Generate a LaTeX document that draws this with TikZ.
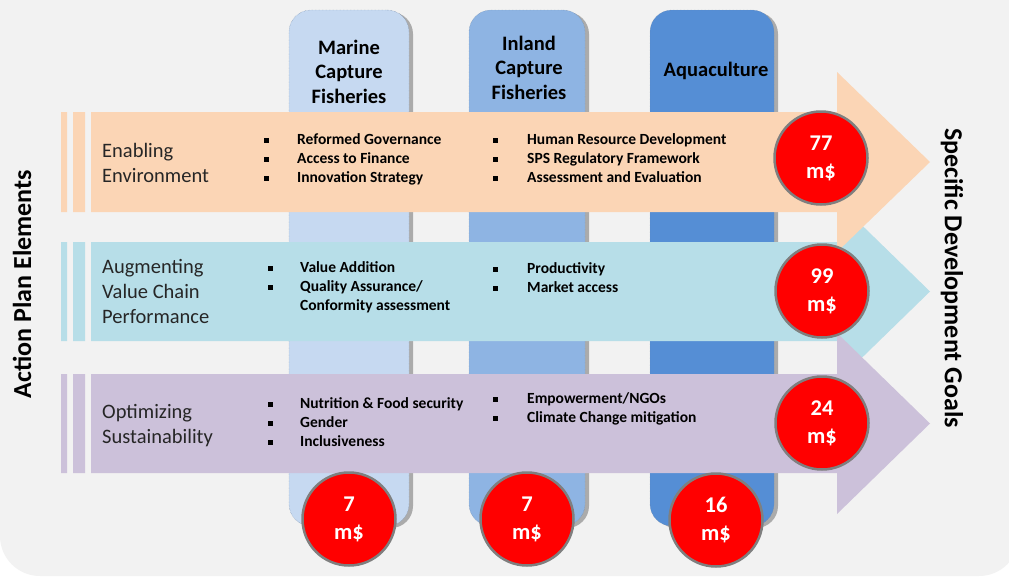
\documentclass[tikz,border=0pt]{standalone}
\usepackage{fontspec}
\setmainfont{Carlito}
\usetikzlibrary{positioning,shadows}
\definecolor{bg}{HTML}{F2F2F2}
\definecolor{bandA}{HTML}{FBD5B5}
\definecolor{bandB}{HTML}{B7DEE8}
\definecolor{bandC}{HTML}{CCC1DA}
\definecolor{colA}{HTML}{C6D9F1}
\definecolor{colB}{HTML}{8EB4E3}
\definecolor{colC}{HTML}{558ED5}
\definecolor{colline}{HTML}{6F86A3}
\definecolor{ring}{HTML}{7F7F7F}
\definecolor{ink}{HTML}{262626}
\tikzstyle{K} = [rectangle,
			draw=colline, densely dotted, thin,
			rounded corners=22pt, minimum height=516pt,
			drop shadow={shadow xshift=4pt, shadow yshift=-2pt,
			fill=black!60, opacity=.5}]
\tikzstyle{H} = [align=center, inner sep=0pt, anchor=base,
			font=\fontsize{20.5}{24.5}\selectfont\bfseries]
\tikzstyle{T} = [align=left, inner sep=0pt, anchor=base west, text=ink,
			font=\fontsize{20.5}{25}\selectfont]
\tikzstyle{B} = [align=left, inner sep=0pt, anchor=base west,
			font=\fontsize{15.5}{19}\selectfont\bfseries]
\tikzstyle{M} = [circle,
			fill=red, draw=ring, line width=2.5pt,
			minimum size=93pt, inner sep=0pt,
			text=white, align=center,
			font=\fontsize{22.5}{28}\selectfont\bfseries]
\tikzstyle{V} = [inner sep=0pt, font=\fontsize{26}{30}\selectfont\bfseries]
\newcommand{\sqb}{\rule[1.4pt]{4.5pt}{4.5pt}}

\begin{document}
\begin{tikzpicture}[x=1pt, y=-1pt]

\useasboundingbox (0,0) rectangle (1009,576);
\clip (0,0) rectangle (1009,576);
\fill[white] (0,0) rectangle (1009,576);
\fill[bg, rounded corners=40pt] (0,-60) rectangle (1019,576);

% columns
\node [K, fill=colA, minimum width=120pt]
(marine) at (349,268)
	{};
\node [K, fill=colB, minimum width=116pt]
(inland) at (527,268)
	{};
\node [K, fill=colC, minimum width=124pt]
(aqua) at (712,268)
	{};

\node [H] (marinet) at (349,103) {Marine\\Capture\\Fisheries};
\node [H] (inlandt) at (529,99) {Inland\\Capture\\Fisheries};
\node [H] (aquat) at (716,76) {Aquaculture};

% bands
\fill[bandB] (91,242) -- (837,242) -- (837,201) -- (930,291.5)
	-- (837,382) -- (837,341) -- (91,341) -- cycle;
\fill[bandB] (61,242) rectangle (67,341) (73,242) rectangle (85,341);

\fill[bandA] (91,112) -- (837,112) -- (837,72) -- (930,162)
	-- (837,252) -- (837,212) -- (91,212) -- cycle;
\fill[bandA] (61,112) rectangle (67,212) (73,112) rectangle (85,212);

\fill[bandC] (91,374) -- (837,374) -- (837,333) -- (930,423.5)
	-- (837,514) -- (837,473) -- (91,473) -- cycle;
\fill[bandC] (61,374) rectangle (67,473) (73,374) rectangle (85,473);

% band titles
\node [T] (enab) at (102,182) {Enabling\\Environment};
\node [T] (augm) at (102,323) {Augmenting\\Value Chain\\Performance};
\node [T] (opti) at (102,443) {Optimizing\\Sustainability};

% bullet lists
\node [B]
(enabl)	at (264,182)
	{\makebox[33pt][l]{\sqb}Reformed Governance\\
	\makebox[33pt][l]{\sqb}Access to Finance\\
	\makebox[33pt][l]{\sqb}Innovation Strategy};

\node [B]
(enabr) at (493,182)
	{\makebox[34pt][l]{\sqb}Human Resource Development\\
	\makebox[34pt][l]{\sqb}SPS Regulatory Framework\\
	\makebox[34pt][l]{\sqb}Assessment and Evaluation};

\node [B]
(augml) at (268,310)
	{\makebox[32pt][l]{\sqb}Value Addition\\
	\makebox[32pt][l]{\sqb}Quality Assurance/\\
	\makebox[32pt][l]{}Conformity assessment};

\node [B]
(augmr) at (493,292)
	{\makebox[34pt][l]{\sqb}Productivity\\
	\makebox[34pt][l]{\sqb}Market access};

\node [B]
(optil) at (268,446)
	{\makebox[32pt][l]{\sqb}Nutrition \& Food security\\
	\makebox[32pt][l]{\sqb}Gender\\
	\makebox[32pt][l]{\sqb}Inclusiveness};

\node [B]
(optir) at (493,422)
	{\makebox[34pt][l]{\sqb}Empowerment/NGOs\\
	\makebox[34pt][l]{\sqb}Climate Change mitigation};

% side titles
\node [V, rotate=90] (ape) at (22,284) {Action Plan Elements};
\node [V, rotate=-90] (sdg) at (952,278) {Specific Development Goals};

% budgets
\node [M] (enabm) at (821,158) {77\\m\$};
\node [M] (augmm) at (822,291) {99\\m\$};
\node [M] (optim) at (822,423) {24\\m\$};
\node [M] (marinem) at (349,519) {7\\m\$};
\node [M] (inlandm) at (527,519) {7\\m\$};
\node [M] (aquam) at (716,520) {16\\m\$};

\end{tikzpicture}
\end{document}
